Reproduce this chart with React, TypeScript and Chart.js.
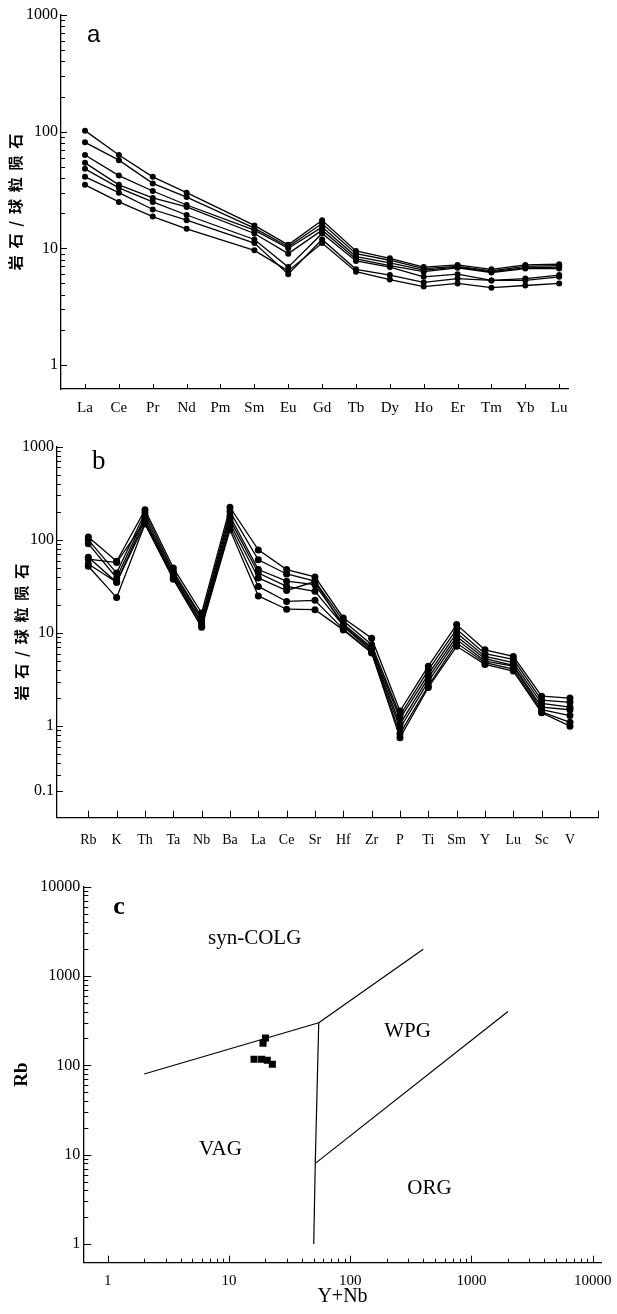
import React, { useEffect, useRef } from 'react';
import { Chart, registerables } from 'chart.js';

Chart.register(...registerables);

// ---------- Panel a: REE chondrite-normalized ----------
const reeLabels = ['La', 'Ce', 'Pr', 'Nd', 'Pm', 'Sm', 'Eu', 'Gd', 'Tb', 'Dy', 'Ho', 'Er', 'Tm', 'Yb', 'Lu'];
const reeSample1 = [102, 63, 41, 30, null, 15.7, 10.7, 17.4, 9.5, 8.2, 6.9, 7.2, 6.6, 7.2, 7.3];
const reeSample2 = [81, 57, 36, 27.5, null, 14.9, 10.3, 16.3, 9.0, 7.9, 6.7, 7.0, 6.4, 7.0, 7.1];
const reeSample3 = [63, 42, 31, 23.5, null, 14.3, 10.0, 15.2, 8.5, 7.5, 6.5, 6.9, 6.3, 6.8, 6.9];
const reeSample4 = [54, 35, 27, 22.6, null, 13.4, 9.0, 14.3, 8.1, 7.1, 6.3, 6.8, 6.2, 6.7, 6.7];
const reeSample5 = [48, 33, 25, 19.3, null, 11.9, 6.9, 13.4, 7.8, 6.9, 5.7, 6.0, 5.3, 5.5, 5.9];
const reeSample6 = [41, 30, 21.5, 17.4, null, 11.1, 6.0, 11.9, 6.6, 5.9, 5.1, 5.5, 5.3, 5.3, 5.7];
const reeSample7 = [35, 25, 18.7, 14.7, null, 9.6, 6.4, 11.1, 6.3, 5.4, 4.7, 5.0, 4.6, 4.8, 5.0];
const aYTickValues = [1, 10, 100, 1000];
const aYTickLabels = ['1', '10', '100', '1000'];

// ---------- Panel b: trace elements ----------
const traceLabels = ['Rb', 'K', 'Th', 'Ta', 'Nb', 'Ba', 'La', 'Ce', 'Sr', 'Hf', 'Zr', 'P', 'Ti', 'Sm', 'Y', 'Lu', 'Sc', 'V'];
const traceSample1 = [107, 59, 210, 50, 16.4, 224, 78, 48, 40, 14.5, 8.8, 1.45, 4.4, 12.3, 6.6, 5.6, 2.1, 2.0];
const traceSample2 = [100, 44, 195, 46, 14.8, 201, 61, 43, 36, 13.5, 7.5, 1.3, 4.0, 11, 6.0, 5.2, 1.9, 1.8];
const traceSample3 = [91, 39, 178, 44, 14, 180, 48, 36, 33, 12.5, 7.0, 1.2, 3.6, 10, 5.6, 4.8, 1.75, 1.6];
const traceSample4 = [65, 35, 165, 42, 13, 165, 44, 31.6, 28, 12, 6.7, 1.05, 3.3, 9.2, 5.3, 4.5, 1.6, 1.5];
const traceSample5 = [62, 57, 158, 40, 12.5, 150, 39, 28.6, 35.7, 11.8, 6.4, 0.95, 3.0, 8.5, 5.0, 4.4, 1.5, 1.3];
const traceSample6 = [55, 35, 150, 38, 11.8, 138, 31.6, 21.8, 22.4, 11, 6.2, 0.83, 2.7, 7.8, 4.8, 4.1, 1.42, 1.1];
const traceSample7 = [52, 24, 148, 38, 11.5, 128, 25, 18, 17.8, 10.8, 6.1, 0.75, 2.6, 7.2, 4.6, 3.9, 1.39, 1.0];
const bYTickValues = [0.2, 1, 10, 100, 1000];
const bYTickLabels = ['0.1', '1', '10', '100', '1000'];

// ---------- Panel c: Rb vs Y+Nb ----------
const sampleYNb = [16.1, 18.6, 20.7, 22.8, 19.1, 20.0];
const sampleRb = [117, 117, 114, 103, 177, 202];
const colgVagX = [2, 55];
const colgVagY = [80, 300];
const colgWpgX = [55, 400];
const colgWpgY = [300, 2000];
const vagWpgX = [55, 51.5, 50];
const vagWpgY = [300, 8, 1];
const wpgOrgX = [51.5, 2000];
const wpgOrgY = [8, 400];
const regionNames = ['syn-COLG', 'VAG', 'WPG', 'ORG'];
const regionX = [16.3, 8.5, 297, 451];
const regionY = [2630, 11.4, 238, 4.17];
const cTickValues = [1, 10, 100, 1000, 10000];
const cTickLabels = ['1', '10', '100', '1000', '10000'];

const SERIF = "'Liberation Serif', 'Times New Roman', serif";
const CJK = "'Noto Sans CJK SC', sans-serif";

function logMinors(min: number, max: number, majors: number[]) {
  const out: number[] = [];
  for (let k = -2; k <= 5; k++) {
    for (let m = 2; m <= 9; m++) {
      const v = m * Math.pow(10, k);
      if (v >= min && v <= max && !majors.some((q) => Math.abs(q - v) < v * 1e-6)) out.push(v);
    }
  }
  return out;
}

function range(n: number) {
  return Array.from({ length: n }, (_, i) => i);
}

type Marks = { majors: number[]; minors: number[]; majorLen: number; minorLen: number };
type Txt = { text: string; x: number; y: number; font: string; data?: boolean; align?: CanvasTextAlign; baseline?: CanvasTextBaseline };

function marksPlugin(xm: Marks, ym: Marks, texts: Txt[]) {
  return {
    id: 'marks',
    afterDraw(chart: any) {
      const { ctx, chartArea } = chart;
      const xs = chart.scales.x;
      const ys = chart.scales.y;
      ctx.save();
      ctx.strokeStyle = '#000';
      ctx.lineWidth = 1;
      ctx.beginPath();
      const xt = (vals: number[], len: number) =>
        vals.forEach((v) => {
          const px = Math.round(xs.getPixelForValue(v)) + 0.5;
          ctx.moveTo(px, chartArea.bottom);
          ctx.lineTo(px, chartArea.bottom - len);
        });
      const yt = (vals: number[], len: number) =>
        vals.forEach((v) => {
          const py = Math.round(ys.getPixelForValue(v)) + 0.5;
          ctx.moveTo(chartArea.left, py);
          ctx.lineTo(chartArea.left + len, py);
        });
      xt(xm.majors, xm.majorLen);
      xt(xm.minors, xm.minorLen);
      yt(ym.majors, ym.majorLen);
      yt(ym.minors, ym.minorLen);
      ctx.stroke();
      ctx.fillStyle = '#000';
      texts.forEach((t) => {
        ctx.font = t.font;
        ctx.textAlign = t.align || 'center';
        ctx.textBaseline = t.baseline || 'middle';
        const px = t.data ? xs.getPixelForValue(t.x) : chartArea.left + t.x;
        const py = t.data ? ys.getPixelForValue(t.y) : chartArea.top + t.y;
        ctx.fillText(t.text, px, py);
      });
      ctx.restore();
    },
  };
}

const lineDs = (pts: { x: number; y: number }[], radius: number) => ({
  data: pts,
  showLine: true,
  borderColor: '#000',
  borderWidth: 1.3,
  pointRadius: radius,
  pointBackgroundColor: '#000',
  pointBorderColor: '#000',
  pointBorderWidth: 0,
  fill: false,
  tension: 0,
});

const toPts = (vals: (number | null)[]) =>
  vals.map((v, i) => (v == null ? null : { x: i, y: v })).filter((p) => p !== null) as { x: number; y: number }[];

const zip = (xs: number[], ys: number[]) => xs.map((x, i) => ({ x, y: ys[i] }));

const baseX = (min: number, max: number, tickVals: number[], labels: string[], pad: number, size: number, height: number, type = 'linear') => ({
  type,
  min,
  max,
  bounds: 'data',
  grid: { display: false, drawTicks: false },
  border: { display: true, color: '#000', width: 1.3 },
  afterBuildTicks: (s: any) => {
    s.ticks = tickVals.map((v) => ({ value: v }));
  },
  afterFit: (s: any) => {
    s.height = height;
    s.paddingLeft = 0;
    s.paddingRight = 0;
  },
  ticks: {
    autoSkip: false,
    maxRotation: 0,
    minRotation: 0,
    padding: pad,
    color: '#000',
    font: { family: SERIF, size },
    callback: (_v: any, i: number) => labels[i] ?? '',
  },
});

const baseY = (min: number, max: number, tickVals: number[], labels: string[], width: number, title: any) => ({
  type: 'logarithmic',
  min,
  max,
  bounds: 'data',
  grid: { display: false, drawTicks: false },
  border: { display: true, color: '#000', width: 1.3 },
  afterBuildTicks: (s: any) => {
    s.ticks = tickVals.map((v) => ({ value: v }));
  },
  afterFit: (s: any) => {
    s.width = width;
    s.paddingTop = 0;
    s.paddingBottom = 0;
  },
  ticks: {
    autoSkip: false,
    padding: 3,
    color: '#000',
    font: { family: SERIF, size: 16 },
    callback: (_v: any, i: number) => labels[i] ?? '',
  },
  title,
});

function configA(): any {
  const series = [reeSample1, reeSample2, reeSample3, reeSample4, reeSample5, reeSample6, reeSample7];
  return {
    type: 'scatter',
    data: { datasets: series.map((s) => lineDs(toPts(s), 3)) },
    options: {
      animation: false,
      responsive: false,
      devicePixelRatio: 1,
      events: [],
      layout: { padding: { top: 15, right: 49, bottom: 0, left: 0 } },
      plugins: { legend: { display: false }, tooltip: { enabled: false } },
      scales: {
        x: baseX(-0.709, 14.26, range(reeLabels.length), reeLabels, 10, 15, 36),
        y: baseY(0.622, 1000, aYTickValues, aYTickLabels, 61, {
          display: true,
          text: '岩  石  /  球  粒  陨  石',
          color: '#000',
          font: { family: CJK, size: 15, weight: 'bold' },
          padding: 6,
        }),
      },
    },
    plugins: [
      marksPlugin(
        { majors: range(reeLabels.length), minors: [], majorLen: 5, minorLen: 3 },
        { majors: aYTickValues, minors: logMinors(1, 1000, aYTickValues), majorLen: 6, minorLen: 4 },
        [{ text: 'a', x: 26, y: 27, font: `24px 'Liberation Sans', Arial, sans-serif`, align: 'left', baseline: 'alphabetic' }]
      ),
    ],
  };
}

function configB(): any {
  const series = [traceSample1, traceSample2, traceSample3, traceSample4, traceSample5, traceSample6, traceSample7];
  return {
    type: 'scatter',
    data: { datasets: series.map((s) => lineDs(toPts(s), 3.5)) },
    options: {
      animation: false,
      responsive: false,
      devicePixelRatio: 1,
      events: [],
      layout: { padding: { top: 21.7, right: 18.7, bottom: 0, left: 0 } },
      plugins: { legend: { display: false }, tooltip: { enabled: false } },
      scales: {
        x: baseX(-1.105, 18, range(traceLabels.length), traceLabels, 14, 14, 47.3),
        y: baseY(0.104, 1000, bYTickValues, bYTickLabels, 57, {
          display: true,
          text: '岩  石  /  球  粒  陨  石',
          color: '#000',
          font: { family: CJK, size: 15, weight: 'bold' },
          padding: 12,
        }),
      },
    },
    plugins: [
      marksPlugin(
        { majors: range(traceLabels.length + 1), minors: [], majorLen: 7, minorLen: 4 },
        { majors: bYTickValues, minors: logMinors(0.25, 1000, [0.2, ...bYTickValues]), majorLen: 6, minorLen: 4 },
        [{ text: 'b', x: 35, y: 22.6, font: `27px ${SERIF}`, align: 'left', baseline: 'alphabetic' }]
      ),
    ],
  };
}

function configC(): any {
  const boundaryDs = [zip(colgVagX, colgVagY), zip(colgWpgX, colgWpgY), zip(vagWpgX, vagWpgY), zip(wpgOrgX, wpgOrgY)].map((p) => ({
    ...lineDs(p, 0),
    borderWidth: 1.2,
  }));
  const samples = {
    data: zip(sampleYNb, sampleRb),
    showLine: false,
    pointStyle: 'rect',
    pointRadius: 5,
    pointBackgroundColor: '#000',
    pointBorderColor: '#000',
    pointBorderWidth: 0,
  };
  const texts: Txt[] = regionNames.map((n, i) => ({ text: n, x: regionX[i], y: regionY[i], font: `21px ${SERIF}`, data: true }));
  texts.push({ text: 'c', x: 30, y: 27, font: `bold 26px ${SERIF}`, align: 'left', baseline: 'alphabetic' });
  return {
    type: 'scatter',
    data: { datasets: [...boundaryDs, samples] },
    options: {
      animation: false,
      responsive: false,
      devicePixelRatio: 1,
      events: [],
      layout: { padding: { top: 21.7, right: 15.3, bottom: 0, left: 0 } },
      plugins: { legend: { display: false }, tooltip: { enabled: false } },
      scales: {
        x: {
          ...baseX(0.629, 11860, cTickValues, cTickLabels, 9, 15, 51.3, 'logarithmic'),
          title: { display: true, text: 'Y+Nb', color: '#000', font: { family: SERIF, size: 20 }, padding: { top: 0, bottom: 5 } },
        },
        y: baseY(0.618, 10000, cTickValues, cTickLabels, 83.3, {
          display: true,
          text: 'Rb',
          color: '#000',
          font: { family: SERIF, size: 19, weight: 'bold' },
          padding: 10.6,
        }),
      },
    },
    plugins: [
      marksPlugin(
        { majors: cTickValues, minors: logMinors(1, 11000, cTickValues), majorLen: 7, minorLen: 4 },
        { majors: cTickValues, minors: logMinors(1, 10000, cTickValues), majorLen: 8, minorLen: 5 },
        texts
      ),
    ],
  };
}

export default function App() {
  const aRef = useRef<HTMLCanvasElement>(null);
  const bRef = useRef<HTMLCanvasElement>(null);
  const cRef = useRef<HTMLCanvasElement>(null);

  useEffect(() => {
    document.body.style.margin = '0';
    const charts = [
      new Chart(aRef.current as HTMLCanvasElement, configA()),
      new Chart(bRef.current as HTMLCanvasElement, configB()),
      new Chart(cRef.current as HTMLCanvasElement, configC()),
    ];
    return () => charts.forEach((c) => c.destroy());
  }, []);

  return (
    <div style={{ position: 'absolute', left: 0, top: 0, width: 617, height: 1314, background: '#fff', overflow: 'hidden' }}>
      <canvas ref={aRef} width={617} height={425} style={{ position: 'absolute', left: 0, top: 0 }} />
      <canvas ref={bRef} width={617} height={440} style={{ position: 'absolute', left: 0, top: 425 }} />
      <canvas ref={cRef} width={617} height={449} style={{ position: 'absolute', left: 0, top: 865 }} />
    </div>
  );
}
